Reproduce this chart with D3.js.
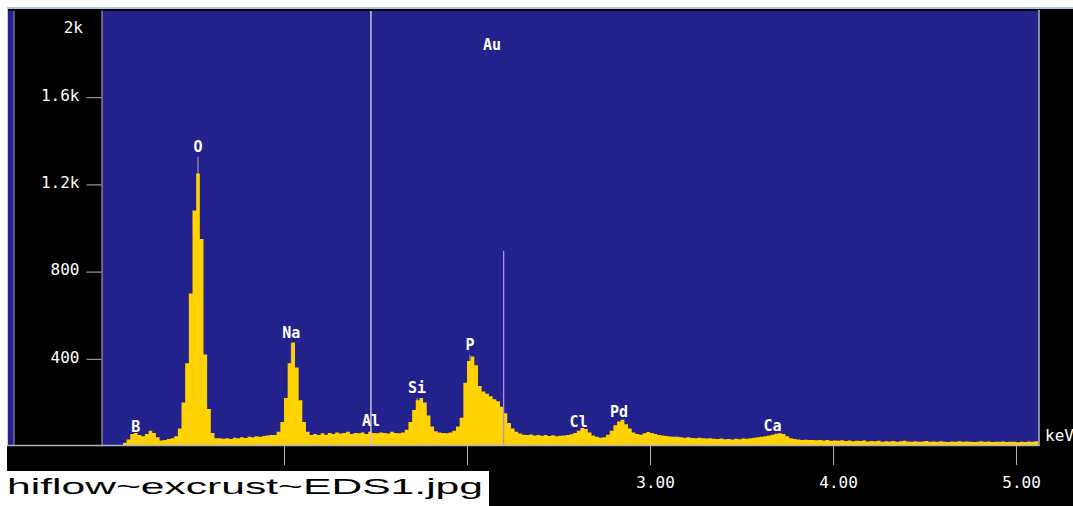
<!DOCTYPE html>
<html>
<head>
<meta charset="utf-8">
<script src="https://cdn.jsdelivr.net/npm/d3@7"></script>
<style>
  body { margin: 0; background: #fff; overflow: hidden; }
  svg { display: block; }
</style>
</head>
<body>
<script>
// spectrum, one value per 0.02 keV channel starting at 0 keV
const channelWidth = 0.02;
const counts = [
  0, 0, 0, 0, 0, 5, 15, 30, 55, 60,
  50, 45, 55, 70, 60, 40, 25, 28, 32, 35,
  45, 80, 200, 380, 700, 1080, 1250, 950, 420, 170,
  60, 35, 35, 33, 36, 32, 38, 35, 40, 37,
  42, 40, 45, 43, 46, 48, 50, 50, 65, 110,
  220, 380, 475, 360, 210, 110, 65, 50, 55, 50,
  58, 52, 60, 55, 62, 57, 60, 65, 55, 60,
  58, 62, 55, 65, 60, 58, 62, 60, 57, 65,
  60, 58, 62, 75, 110, 165, 210, 220, 200, 140,
  90, 68, 62, 60, 58, 62, 70, 90, 130, 290,
  390, 410, 370, 275, 250, 240, 228, 215, 205, 180,
  150, 105, 80, 65, 57, 52, 50, 53, 48, 51,
  47, 50, 46, 49, 45, 47, 48, 50, 54, 60,
  70, 82, 78, 62, 48, 42, 38, 40, 52, 70,
  95, 112, 120, 100, 80, 62, 55, 52, 58, 64,
  60, 55, 50, 48, 46, 44, 42, 43, 40, 38,
  40, 37, 36, 38, 35, 34, 36, 33, 32, 34,
  31, 32, 30, 33, 31, 34, 33, 36, 38, 40,
  42, 45, 48, 52, 56, 58, 55, 45, 36, 32,
  30, 28, 29, 27, 28, 26, 27, 25, 27, 24,
  25, 24, 26, 23, 25, 22, 24, 23, 25, 21,
  23, 22, 24, 20, 22, 21, 23, 20, 22, 24,
  21, 20, 22, 19, 21, 23, 20, 21, 19, 22,
  20, 18, 21, 20, 22, 19, 21, 20, 18, 20,
  22, 19, 21, 18, 20, 19, 21, 18, 20, 19,
  17, 20, 18, 21, 19, 22
];

const yTicks = [400, 800, 1200, 1600];
const yTickLabels = ["400", "800", "1.2k", "1.6k"];
const fullScaleLabel = "2k";
const xTicks = [1, 2, 3, 4, 5];
const xTickLabels = ["1.00", "2.00", "3.00", "4.00", "5.00"];

// element identification labels
const elements = ["B", "O", "Na", "Al", "Si", "P", "Cl", "Pd", "Ca"];
const elementEnergies = [0.19, 0.53, 1.04, 1.475, 1.727, 2.016, 2.61, 2.83, 3.67];
const elementMarkers = [41, 1327, 473, 69, 220, 418, 64, 110, 46];
const topElement = "Au";
const topElementEnergy = 2.137;
const topElementCount = 1795;

const cursorEnergy = 1.475;
const roiEnergy = 2.20;
const roiCount = 895;
const fileName = "hiflow~excrust~EDS1.jpg";

const W = 1073, H = 506;
const plotLeft = 101, plotRight = 1038, plotTop = 10, plotBottom = 446;
const captionRight = 489;

const svg = d3.select("body").append("svg")
  .attr("width", W).attr("height", H);

const mono = "'DejaVu Sans Mono', 'Liberation Mono', monospace";
const blue = "#23228c";
const yellow = "#ffd200";
const grey = "#b4b4c0";

// frame
svg.append("rect").attr("x", 7).attr("y", 7).attr("width", W - 7).attr("height", 2)
  .attr("fill", "#a9c6dc");
svg.append("rect").attr("x", 7).attr("y", 9).attr("width", W - 7).attr("height", H - 9)
  .attr("fill", "#000");
svg.append("rect").attr("x", 8).attr("y", 11).attr("width", 6).attr("height", plotBottom - 11)
  .attr("fill", blue);
svg.append("line").attr("x1", 7.5).attr("x2", 7.5).attr("y1", 9).attr("y2", plotBottom)
  .attr("stroke", "#c8d0e0");
svg.append("line").attr("x1", 14).attr("x2", 14).attr("y1", 11).attr("y2", plotBottom)
  .attr("stroke", "#9098c8");

let x = d3.scaleLinear().domain([0, 5.12]).range([plotLeft, plotRight]);
let y = d3.scaleLinear().domain([0, 2000]).range([plotBottom, plotTop]);

svg.append("rect")
  .attr("x", plotLeft + 1).attr("y", 11)
  .attr("width", plotRight - plotLeft).attr("height", plotBottom - 11)
  .attr("fill", blue);

svg.append("clipPath").attr("id", "plot")
  .append("rect")
  .attr("x", plotLeft + 1).attr("y", 11)
  .attr("width", plotRight - plotLeft).attr("height", plotBottom - 11);

let g = svg.append("g").attr("clip-path", "url(#plot)");

// element marker lines sit behind the spectrum
g.selectAll("line.marker")
  .data(elements).enter().append("line")
  .attr("class", "marker")
  .attr("x1", (d, i) => x(elementEnergies[i]))
  .attr("x2", (d, i) => x(elementEnergies[i]))
  .attr("y1", (d, i) => y(elementMarkers[i]))
  .attr("y2", plotBottom)
  .attr("stroke", "#a8a8b8").attr("stroke-width", 1);

let points = counts.map((c, i) => [i * channelWidth, c]);
points.push([counts.length * channelWidth, counts[counts.length - 1]]);

let area = d3.area()
  .curve(d3.curveStepAfter)
  .x((d) => x(d[0]))
  .y0(plotBottom)
  .y1((d) => y(d[1]));

g.append("path").datum(points)
  .attr("d", area)
  .attr("fill", yellow);

// cursor and ROI marker
g.append("line")
  .attr("x1", x(cursorEnergy)).attr("x2", x(cursorEnergy))
  .attr("y1", 11).attr("y2", plotBottom)
  .attr("stroke", "#c4c4d4").attr("stroke-width", 1.5);
g.append("line")
  .attr("x1", x(roiEnergy)).attr("x2", x(roiEnergy))
  .attr("y1", y(roiCount)).attr("y2", plotBottom)
  .attr("stroke", "#b48cf0").attr("stroke-width", 1.3);

// element labels
g.selectAll("text.el")
  .data(elements).enter().append("text")
  .attr("class", "el")
  .attr("x", (d, i) => x(elementEnergies[i]))
  .attr("y", (d, i) => y(elementMarkers[i]) - 5)
  .attr("text-anchor", "middle")
  .attr("fill", "#fff")
  .style("font-family", mono).style("font-size", "15px").style("font-weight", "bold")
  .text((d) => d);

g.append("text")
  .attr("x", x(topElementEnergy)).attr("y", y(topElementCount) - 5)
  .attr("text-anchor", "middle").attr("fill", "#fff")
  .style("font-family", mono).style("font-size", "15px").style("font-weight", "bold")
  .text(topElement);

// axes
let yAxis = d3.axisLeft(y)
  .tickValues(yTicks)
  .tickFormat((d, i) => yTickLabels[i])
  .tickSizeInner(15).tickSizeOuter(0).tickPadding(7);

let ya = svg.append("g")
  .attr("transform", `translate(${plotLeft + 0.5}, 0)`)
  .call(yAxis);
ya.select(".domain").attr("stroke", grey);
ya.selectAll(".tick line").attr("stroke", grey);
ya.selectAll(".tick text").attr("fill", "#fff").attr("dy", "0.2em")
  .style("font-family", mono).style("font-size", "16px");

svg.append("text")
  .attr("x", 83).attr("y", y(2000) + 23)
  .attr("text-anchor", "end").attr("fill", "#fff")
  .style("font-family", mono).style("font-size", "16px")
  .text(fullScaleLabel);

let xAxis = d3.axisBottom(x)
  .tickValues(xTicks)
  .tickFormat((d, i) => xTickLabels[i])
  .tickSizeInner(19).tickSizeOuter(0).tickPadding(12);

let xa = svg.append("g")
  .attr("transform", `translate(0, ${plotBottom})`)
  .call(xAxis);
xa.select(".domain").remove();
xa.selectAll(".tick line").attr("stroke", grey);
xa.selectAll(".tick text").attr("fill", "#fff").attr("dx", 5)
  .style("font-family", mono).style("font-size", "16px");
// labels that would sit under the caption box are not shown
xa.selectAll(".tick text").filter((d) => x(d) - 20 < captionRight).remove();

// baseline and right edge of plot
svg.append("line")
  .attr("x1", 7).attr("x2", plotRight + 1.5)
  .attr("y1", plotBottom - 0.5).attr("y2", plotBottom - 0.5)
  .attr("stroke", grey).attr("stroke-width", 1.5);
svg.append("line")
  .attr("x1", plotRight + 1).attr("x2", plotRight + 1)
  .attr("y1", 10).attr("y2", plotBottom)
  .attr("stroke", grey).attr("stroke-width", 1.5);

svg.append("text")
  .attr("x", 1045).attr("y", 441)
  .attr("fill", "#fff")
  .style("font-family", mono).style("font-size", "16px")
  .text("keV");

// file name caption
svg.append("rect").attr("x", 0).attr("y", 471).attr("width", captionRight).attr("height", H - 471)
  .attr("fill", "#fff");
svg.append("text")
  .attr("x", 7).attr("y", 494)
  .attr("textLength", 476).attr("lengthAdjust", "spacingAndGlyphs")
  .attr("fill", "#000")
  .style("font-family", "'Liberation Sans', Arial, sans-serif").style("font-size", "22px")
  .text(fileName);
</script>
</body>
</html>
